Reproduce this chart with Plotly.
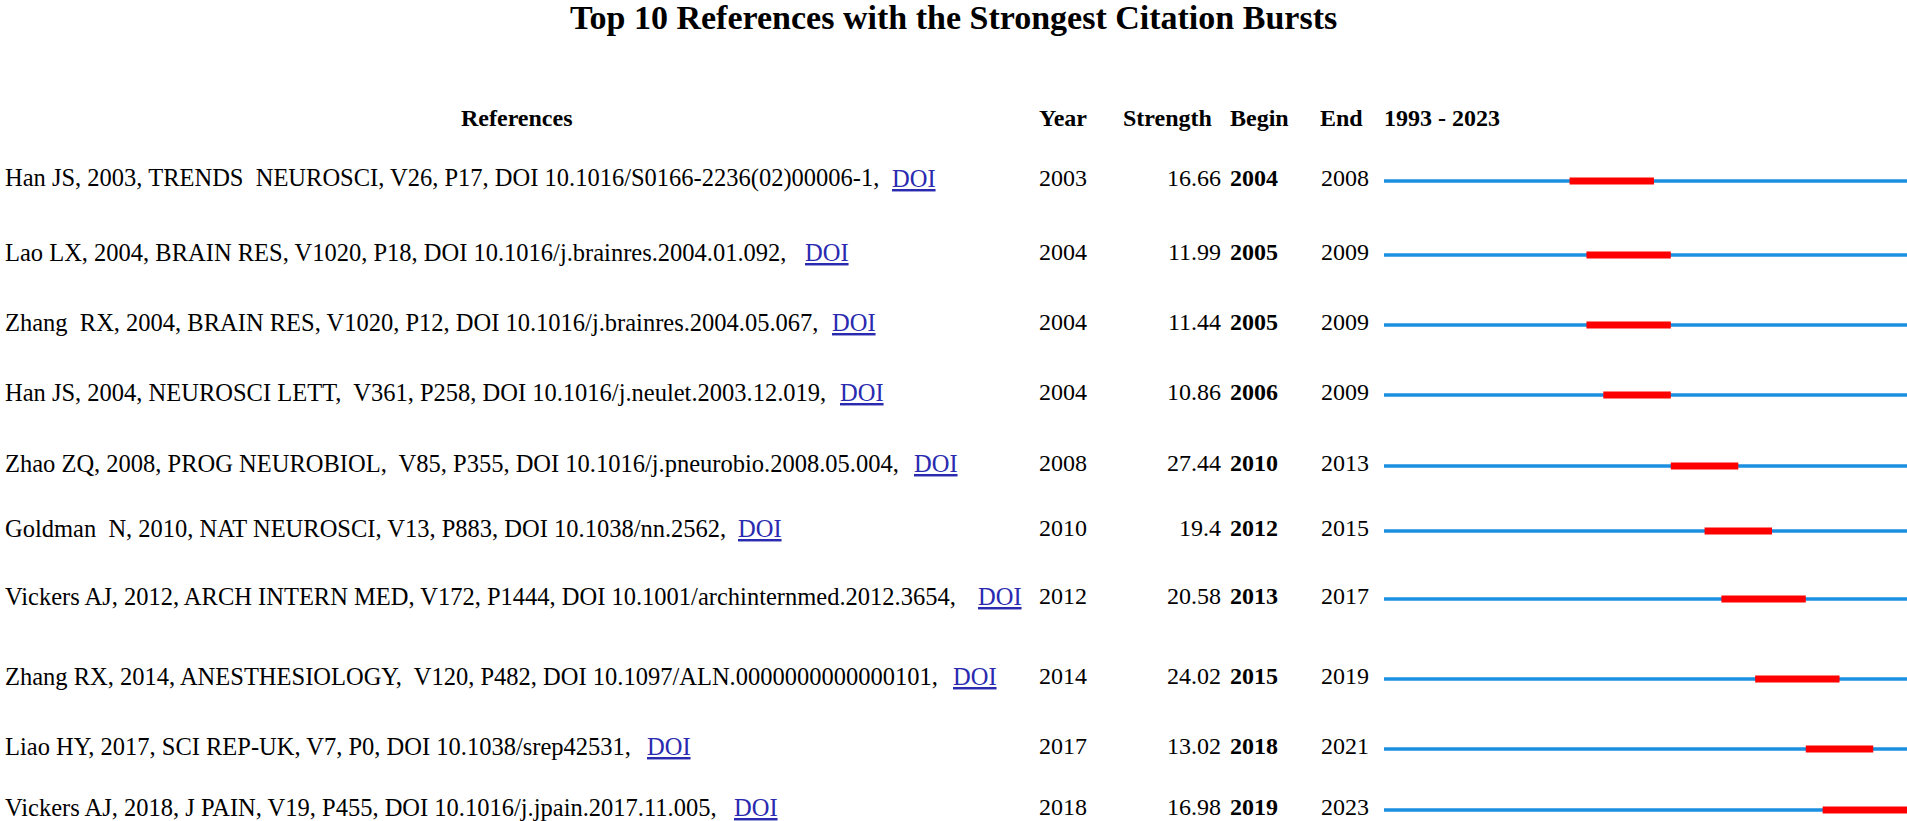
import plotly.graph_objects as go

# ---------------- data ----------------
references = [
    "Han JS, 2003, TRENDS  NEUROSCI, V26, P17, DOI 10.1016/S0166-2236(02)00006-1,",
    "Lao LX, 2004, BRAIN RES, V1020, P18, DOI 10.1016/j.brainres.2004.01.092,",
    "Zhang  RX, 2004, BRAIN RES, V1020, P12, DOI 10.1016/j.brainres.2004.05.067,",
    "Han JS, 2004, NEUROSCI LETT,  V361, P258, DOI 10.1016/j.neulet.2003.12.019,",
    "Zhao ZQ, 2008, PROG NEUROBIOL,  V85, P355, DOI 10.1016/j.pneurobio.2008.05.004,",
    "Goldman  N, 2010, NAT NEUROSCI, V13, P883, DOI 10.1038/nn.2562,",
    "Vickers AJ, 2012, ARCH INTERN MED, V172, P1444, DOI 10.1001/archinternmed.2012.3654,",
    "Zhang RX, 2014, ANESTHESIOLOGY,  V120, P482, DOI 10.1097/ALN.0000000000000101,",
    "Liao HY, 2017, SCI REP-UK, V7, P0, DOI 10.1038/srep42531,",
    "Vickers AJ, 2018, J PAIN, V19, P455, DOI 10.1016/j.jpain.2017.11.005,",
]
pub_years = [2003, 2004, 2004, 2004, 2008, 2010, 2012, 2014, 2017, 2018]
strengths = [16.66, 11.99, 11.44, 10.86, 27.44, 19.4, 20.58, 24.02, 13.02, 16.98]
begins = [2004, 2005, 2005, 2006, 2010, 2012, 2013, 2015, 2018, 2019]
ends = [2008, 2009, 2009, 2009, 2013, 2015, 2017, 2019, 2021, 2023]
first_year = 1993
last_year = 2023
title = "Top 10 References with the Strongest Citation Bursts"
headers = ["References", "Year", "Strength", "Begin", "End"]

# ---------------- layout helpers (pixel positions) ----------------
W, H = 1907, 821
row_y = [181, 255, 325, 395, 466, 531, 599, 679, 749, 810]
doi_left = [891, 804, 831, 839, 913, 737, 977, 952, 646, 733]
FONT = "Liberation Serif, Times New Roman, serif"
FS_REF = 24.5
FS = 24
BLUE = "#1b8fe0"
RED = "#ff0000"
DOI_COLOR = "#2a2ab0"

def px(x):
    return x / W

fig = go.Figure()

# timeline base lines
bx, by = [], []
for y in row_y:
    bx += [first_year, last_year + 1, None]
    by += [y, y, None]
fig.add_trace(go.Scatter(x=bx, y=by, mode="lines", line=dict(color=BLUE, width=3.5),
                         hoverinfo="skip", showlegend=False))

# burst segments
rx, ry = [], []
for y, b, e in zip(row_y, begins, ends):
    rx += [b, e + 1, None]
    ry += [y, y, None]
fig.add_trace(go.Scatter(x=rx, y=ry, mode="lines", line=dict(color=RED, width=7),
                         hoverinfo="skip", showlegend=False))

ann = []
# title
ann.append(dict(text=f"<b>{title}</b>", x=0.5, y=17, xref="paper", yref="y",
                xanchor="center", yanchor="middle", showarrow=False,
                font=dict(family=FONT, size=34, color="black")))
# headers
hy = 118
ann.append(dict(text=f"<b>{headers[0]}</b>", x=px(517), y=hy, xanchor="center"))
ann.append(dict(text=f"<b>{headers[1]}</b>", x=px(1038), y=hy, xanchor="left"))
ann.append(dict(text=f"<b>{headers[2]}</b>", x=px(1122), y=hy, xanchor="left"))
ann.append(dict(text=f"<b>{headers[3]}</b>", x=px(1229), y=hy, xanchor="left"))
ann.append(dict(text=f"<b>{headers[4]}</b>", x=px(1319), y=hy, xanchor="left"))
ann.append(dict(text=f"<b>{first_year} - {last_year}</b>", x=px(1383), y=hy, xanchor="left"))

for i, y in enumerate(row_y):
    ty = y - 3
    ann.append(dict(text=references[i].replace("  ", "\u00a0 "), x=px(4), y=ty, xanchor="left",
                    font=dict(family=FONT, size=FS_REF, color="black")))
    ann.append(dict(text="<span style='text-decoration:underline'>DOI</span>", x=px(doi_left[i]), y=ty,
                    xanchor="left", font=dict(family=FONT, size=FS_REF, color=DOI_COLOR)))
    ann.append(dict(text=str(pub_years[i]), x=px(1038), y=ty, xanchor="left"))
    ann.append(dict(text=f"{strengths[i]:g}", x=px(1222), y=ty, xanchor="right"))
    ann.append(dict(text=f"<b>{begins[i]}</b>", x=px(1229), y=ty, xanchor="left"))
    ann.append(dict(text=str(ends[i]), x=px(1320), y=ty, xanchor="left"))

for a in ann:
    a.setdefault("xref", "paper")
    a.setdefault("yref", "y")
    a.setdefault("yanchor", "middle")
    a.setdefault("showarrow", False)
    a.setdefault("borderpad", 0)
    a.setdefault("font", dict(family=FONT, size=FS, color="black"))

fig.update_layout(
    width=W, height=H,
    margin=dict(l=0, r=0, t=0, b=0),
    paper_bgcolor="white", plot_bgcolor="white",
    annotations=ann,
    xaxis=dict(domain=[1384 / W, 1.0], range=[first_year, last_year + 1],
               visible=False, fixedrange=True),
    yaxis=dict(domain=[0, 1], range=[H, 0], visible=False, fixedrange=True),
    showlegend=False,
)

fig.write_html("out.html",
               config={"displayModeBar": False},
               post_script="document.body.style.margin='0';document.body.style.overflow='hidden';")
